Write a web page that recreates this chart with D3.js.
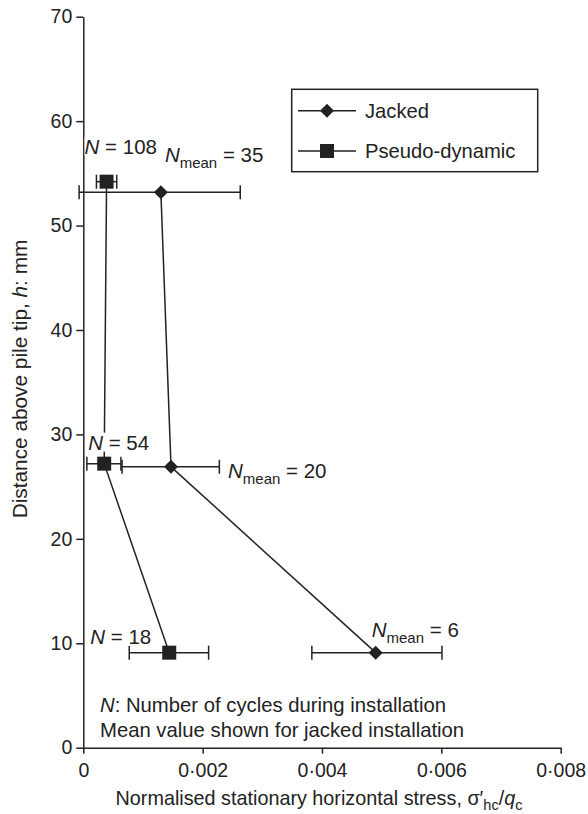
<!DOCTYPE html>
<html>
<head>
<meta charset="utf-8">
<script src="https://cdn.jsdelivr.net/npm/d3@7"></script>
<style>
  body { margin: 0; background: #fff; }
  text { font-family: "Liberation Sans", Arial, Helvetica, sans-serif; fill: #222; }
</style>
</head>
<body>
<div class="chart"></div>
<script>
// values
var jackedX = [0.00130, 0.00147, 0.00490];
var jackedH = [53.2, 26.9, 9.1];
var jackedLo = [-0.00007, 0.00065, 0.00383];
var jackedHi = [0.00263, 0.00228, 0.00601];
var jackedN = ['35', '20', '6'];

var pseudoX = [0.00039, 0.00035, 0.00144];
var pseudoH = [54.2, 27.2, 9.1];
var pseudoLo = [0.00022, 0.00006, 0.00077];
var pseudoHi = [0.00056, 0.00063, 0.00210];
var pseudoN = ['108', '54', '18'];

var xTicks = [0, 0.002, 0.004, 0.006, 0.008];
var yTicks = [0, 10, 20, 30, 40, 50, 60, 70];
var legendNames = ['Jacked', 'Pseudo-dynamic'];
var noteLines = [': Number of cycles during installation', 'Mean value shown for jacked installation'];

var width = 588, height = 814;
var ink = '#222';

var svg = d3.select('.chart')
    .append('svg')
    .attr('width', width)
    .attr('height', height);

var x = d3.scaleLinear().domain([0, 0.008]).range([83.3, 560.7]);
var y = d3.scaleLinear().domain([0, 70]).range([747.7, 16.7]);

var jacked = jackedX.map((v, i) => ({x: v, h: jackedH[i], lo: jackedLo[i], hi: jackedHi[i], n: jackedN[i]}));
var pseudo = pseudoX.map((v, i) => ({x: v, h: pseudoH[i], lo: pseudoLo[i], hi: pseudoHi[i], n: pseudoN[i]}));

/**
 * axes
 */
var fmt = d => d === 0 ? '0' : d3.format('.3f')(d).replace('.', '\u00b7');
var xAxis = svg.append('g')
    .attr('transform', `translate(0, ${y(0)})`)
    .call(d3.axisBottom(x).tickValues(xTicks).tickFormat(fmt).tickSize(6).tickSizeOuter(0).tickPadding(9));
var yAxis = svg.append('g')
    .attr('transform', `translate(${x(0)}, 0)`)
    .call(d3.axisLeft(y).tickValues(yTicks).tickSize(7).tickSizeOuter(0).tickPadding(4));

[xAxis, yAxis].forEach(a => {
    a.selectAll('path, line').attr('stroke', ink).attr('stroke-width', 1.5);
    a.selectAll('text').attr('fill', ink).style('font-size', '19.5px')
        .style('font-family', '"Liberation Sans", Arial, sans-serif');
});

// x title with sigma'_hc / q_c
var xt = svg.append('text')
    .attr('x', 319).attr('y', 805)
    .attr('text-anchor', 'middle')
    .style('font-size', '19.8px');
xt.append('tspan').text('Normalised stationary horizontal stress, \u03c3\u2032');
xt.append('tspan').attr('dy', 5).style('font-size', '14.5px').text('hc');
xt.append('tspan').attr('dy', -5).text('/');
xt.append('tspan').style('font-style', 'italic').text('q');
xt.append('tspan').attr('dy', 5).style('font-size', '14.5px').text('c');

var yt = svg.append('text')
    .attr('transform', 'translate(27, 379) rotate(-90)')
    .attr('text-anchor', 'middle')
    .style('font-size', '20.8px');
yt.append('tspan').text('Distance above pile tip, ');
yt.append('tspan').style('font-style', 'italic').text('h');
yt.append('tspan').text(': mm');

/**
 * lines
 */
var line = d3.line().x(d => x(d.x)).y(d => y(d.h));
[jacked, pseudo].forEach(s => {
    svg.append('path')
        .datum(s)
        .attr('d', line)
        .attr('fill', 'none')
        .attr('stroke', ink)
        .attr('stroke-width', 1.5);
});

/**
 * error bars
 */
function errorBars(s) {
    var g = svg.append('g').selectAll('g').data(s).join('g');
    g.append('line')
        .attr('x1', d => x(d.lo)).attr('x2', d => x(d.hi))
        .attr('y1', d => y(d.h)).attr('y2', d => y(d.h));
    g.append('line')
        .attr('x1', d => x(d.lo)).attr('x2', d => x(d.lo))
        .attr('y1', d => y(d.h) - 7).attr('y2', d => y(d.h) + 7);
    g.append('line')
        .attr('x1', d => x(d.hi)).attr('x2', d => x(d.hi))
        .attr('y1', d => y(d.h) - 7).attr('y2', d => y(d.h) + 7);
    g.selectAll('line').attr('stroke', ink).attr('stroke-width', 1.5);
}
errorBars(jacked);
errorBars(pseudo);

/**
 * point labels (white backing so the line breaks behind them)
 */
function nLabel(s, sub, offs) {
    s.forEach((d, i) => {
        var t = svg.append('text')
            .attr('x', x(d.x) + offs[i][0])
            .attr('y', y(d.h) + offs[i][1])
            .style('font-size', '20.5px');
        t.append('tspan').style('font-style', 'italic').text('N');
        if (sub) {
            t.append('tspan').attr('dy', 6).style('font-size', '15px').text('mean');
            t.append('tspan').attr('dy', -6).text(' = ' + d.n);
        } else {
            t.append('tspan').text(' = ' + d.n);
        }
        var b = t.node().getBBox();
        svg.insert('rect', () => t.node())
            .attr('x', b.x).attr('y', b.y + 2)
            .attr('width', b.width).attr('height', b.height - 4)
            .attr('fill', '#fff');
    });
}
nLabel(pseudo, false, [[-22, -28], [-16, -14], [-79, -9]]);
nLabel(jacked, true, [[4, -30], [57, 11], [-4, -16]]);

/**
 * markers
 */
var diamond = d3.symbol().type(d3.symbolDiamond2).size(125);
svg.append('g').selectAll('path').data(jacked).join('path')
    .attr('d', diamond)
    .attr('transform', d => `translate(${x(d.x)}, ${y(d.h)})`)
    .attr('fill', ink);
svg.append('g').selectAll('rect').data(pseudo).join('rect')
    .attr('x', d => x(d.x) - 7).attr('y', d => y(d.h) - 7)
    .attr('width', 14).attr('height', 14)
    .attr('fill', ink);

/**
 * legend
 */
var legend = svg.append('g');
legend.append('rect')
    .attr('x', 291.7).attr('y', 89.3)
    .attr('width', 246).attr('height', 82.4)
    .attr('fill', 'none').attr('stroke', ink).attr('stroke-width', 1.5);
legendNames.forEach((name, i) => {
    var ly = 110.7 + i * 40.3;
    legend.append('line')
        .attr('x1', 298).attr('x2', 356).attr('y1', ly).attr('y2', ly)
        .attr('stroke', ink).attr('stroke-width', 1.5);
    if (i === 0) {
        legend.append('path').attr('d', diamond)
            .attr('transform', `translate(327, ${ly})`).attr('fill', ink);
    } else {
        legend.append('rect').attr('x', 320).attr('y', ly - 7)
            .attr('width', 14).attr('height', 14).attr('fill', ink);
    }
    legend.append('text')
        .attr('x', 365).attr('y', ly + 7)
        .style('font-size', '20.2px')
        .text(name);
});

/**
 * note
 */
noteLines.forEach((s, i) => {
    var t = svg.append('text')
        .attr('x', 100).attr('y', 711.7 + i * 25)
        .style('font-size', '20.3px');
    if (i === 0) t.append('tspan').style('font-style', 'italic').text('N');
    t.append('tspan').text(s);
});
</script>
</body>
</html>
